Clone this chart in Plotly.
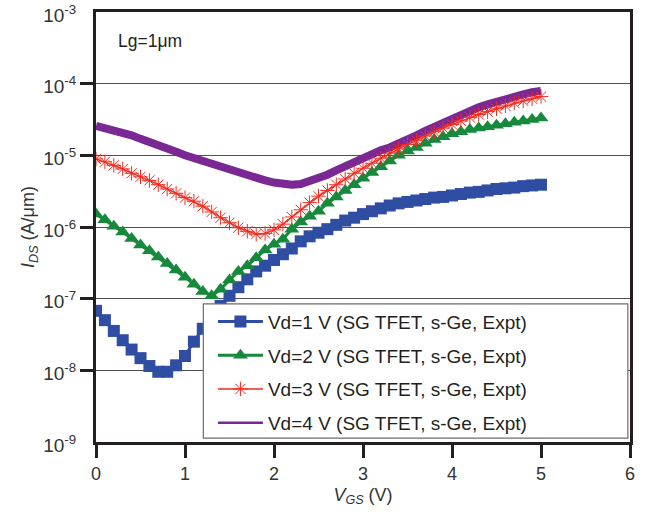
import plotly.graph_objects as go

vgs = [round(0.1 * i, 1) for i in range(51)]

# log10(I_DS) values, at vgs
vd1_log = [-7.17, -7.30, -7.45, -7.58, -7.71, -7.83, -7.94, -8.02, -8.02, -7.93,
           -7.80, -7.60, -7.42, -7.25, -7.10, -6.96, -6.84, -6.73, -6.62, -6.54,
           -6.46, -6.38, -6.30, -6.20, -6.13, -6.08, -6.03, -5.97, -5.91, -5.87,
           -5.82, -5.78, -5.74, -5.70, -5.67, -5.65, -5.63, -5.61, -5.59, -5.58,
           -5.56, -5.54, -5.52, -5.51, -5.49, -5.47, -5.46, -5.45, -5.43, -5.42,
           -5.41]
vd2_log = [-5.82, -5.90, -5.99, -6.07, -6.16, -6.25, -6.33, -6.42, -6.51, -6.60,
           -6.70, -6.80, -6.90, -6.96, -6.87, -6.74, -6.62, -6.54, -6.43, -6.32,
           -6.24, -6.17, -6.03, -5.93, -5.85, -5.78, -5.67, -5.58, -5.49, -5.41,
           -5.32, -5.24, -5.16, -5.08, -5.00, -4.94, -4.89, -4.83, -4.78, -4.74,
           -4.70, -4.67, -4.64, -4.62, -4.60, -4.58, -4.56, -4.54, -4.52, -4.50,
           -4.48]
vd3_log = [-5.05, -5.09, -5.14, -5.19, -5.25, -5.30, -5.35, -5.41, -5.47, -5.53,
           -5.59, -5.64, -5.71, -5.79, -5.87, -5.94, -6.01, -6.06, -6.10, -6.09,
           -6.04, -5.96, -5.86, -5.76, -5.66, -5.57, -5.49, -5.41, -5.33, -5.25,
           -5.18, -5.11, -5.04, -4.97, -4.91, -4.85, -4.79, -4.73, -4.67, -4.62,
           -4.57, -4.52, -4.47, -4.43, -4.39, -4.35, -4.31, -4.27, -4.24, -4.21,
           -4.18]
vd4_log = [-4.59, -4.62, -4.64, -4.67, -4.72, -4.77, -4.81, -4.86, -4.90, -4.95,
           -5.00, -5.04, -5.08, -5.12, -5.17, -5.21, -5.25, -5.28, -5.32, -5.35,
           -5.38, -5.40, -5.41, -5.40, -5.36, -5.32, -5.27, -5.21, -5.15, -5.09,
           -5.03, -4.98, -4.93, -4.89, -4.84, -4.78, -4.72, -4.66, -4.60, -4.54,
           -4.48, -4.42, -4.37, -4.33, -4.29, -4.25, -4.21, -4.18, -4.15, -4.12,
           -4.10]

names = ["Vd=1 V (SG TFET, s-Ge, Expt)", "Vd=2 V (SG TFET, s-Ge, Expt)",
         "Vd=3 V (SG TFET, s-Ge, Expt)", "Vd=4 V (SG TFET, s-Ge, Expt)"]

ytick_vals = [1e-9, 1e-8, 1e-7, 1e-6, 1e-5, 1e-4, 1e-3]
ytick_text = ["10<sup>-9</sup>", "10<sup>-8</sup>", "10<sup>-7</sup>", "10<sup>-6</sup>",
              "10<sup>-5</sup>", "10<sup>-4</sup>", "10<sup>-3</sup>"]
ytick_marks = [1e-8, 1e-7, 1e-6, 1e-5, 1e-4]
xtick_vals = [0, 1, 2, 3, 4, 5, 6]

def to_amp(lst):
    return [10 ** v for v in lst]

BLUE = "#2f4da3"
GREEN = "#16893c"
RED = "#f52a1e"
PURPLE = "#7a2893"
FONT = "Liberation Sans, Arial, sans-serif"
TXT = "#231f20"
LBL = "#333333"

fig = go.Figure()
fig.add_trace(go.Scatter(x=vgs, y=to_amp(vd1_log), name=names[0], mode="lines+markers",
                         line=dict(color=BLUE, width=3), legendgroup="g1",
                         marker=dict(symbol="square", size=12, color=BLUE), legendrank=1))
fig.add_trace(go.Scatter(x=vgs, y=to_amp(vd2_log), name=names[1], mode="lines+markers",
                         line=dict(color=GREEN, width=3), legendgroup="g2",
                         marker=dict(symbol="triangle-up", size=13, color=GREEN), legendrank=2))
fig.add_trace(go.Scatter(x=vgs, y=to_amp(vd4_log), name=names[3], mode="lines",
                         line=dict(color=PURPLE, width=8), showlegend=False, legendgroup="g4"))
fig.add_trace(go.Scatter(x=vgs, y=to_amp(vd3_log), name=names[2], mode="lines+markers",
                         line=dict(color=RED, width=1.5), legendgroup="g3",
                         marker=dict(symbol="asterisk-open", size=12,
                                     line=dict(color=RED, width=1)), legendrank=3))
# legend entry for Vd=4 V drawn with the thin line the reference legend shows
fig.add_trace(go.Scatter(x=[None], y=[None], name=names[3], mode="lines",
                         line=dict(color=PURPLE, width=2.5), legendgroup="g4", legendrank=4))

# legend box
fig.add_shape(type="rect", xref="paper", yref="paper", x0=0.201, x1=0.996, y0=0.009, y1=0.321,
              fillcolor="white", line=dict(color="#6d6d6d", width=1.2), layer="above")

fig.add_annotation(text="Lg=1\u03bcm", xref="paper", yref="paper", x=0.038, y=0.933,
                   xanchor="left", yanchor="middle", showarrow=False,
                   font=dict(family=FONT, size=17.5, color=TXT))

fig.update_layout(
    width=645, height=512,
    margin=dict(l=96, r=15, t=12, b=70),
    paper_bgcolor="white", plot_bgcolor="white",
    font=dict(family=FONT, size=15, color=TXT),
    showlegend=True,
    legend=dict(x=0.219, y=0.324, xanchor="left", yanchor="top",
                bgcolor="rgba(0,0,0,0)", borderwidth=0, itemwidth=45,
                font=dict(family=FONT, size=19, color=TXT),
                tracegroupgap=6, traceorder="grouped"),
    xaxis=dict(range=[0, 6], tickvals=xtick_vals, ticks="outside", ticklen=13, tickwidth=3,
               tickcolor="#231f20", showline=True, linecolor="#231f20", linewidth=3,
               mirror=True, showgrid=False, zeroline=False, automargin=False,
               ticklabeloverflow="allow",
               tickfont=dict(size=18, color=LBL),
               title=dict(text="<i>V</i><sub><i>GS</i></sub> (V)", standoff=6,
                          font=dict(size=18, color=LBL))),
    yaxis=dict(type="log", range=[-9, -3], tickvals=ytick_vals, ticktext=ytick_text,
               ticks="outside", ticklen=13, tickwidth=3, tickcolor="rgba(0,0,0,0)",
               minor=dict(tickvals=ytick_marks, ticks="outside", ticklen=13, tickwidth=3,
                          tickcolor="#231f20", showgrid=False),
               showline=True, linecolor="#231f20", linewidth=3, mirror=True,
               showgrid=True, gridcolor="#505050", gridwidth=1.4, zeroline=False,
               automargin=False, ticklabeloverflow="allow", ticklabelshift=3,
               tickfont=dict(size=19, color=LBL),
               title=dict(text="<i>I</i><sub><i>DS</i></sub> (A/\u03bcm)", standoff=4,
                          font=dict(size=18, color=LBL))),
)

fig.write_html("out.html")
